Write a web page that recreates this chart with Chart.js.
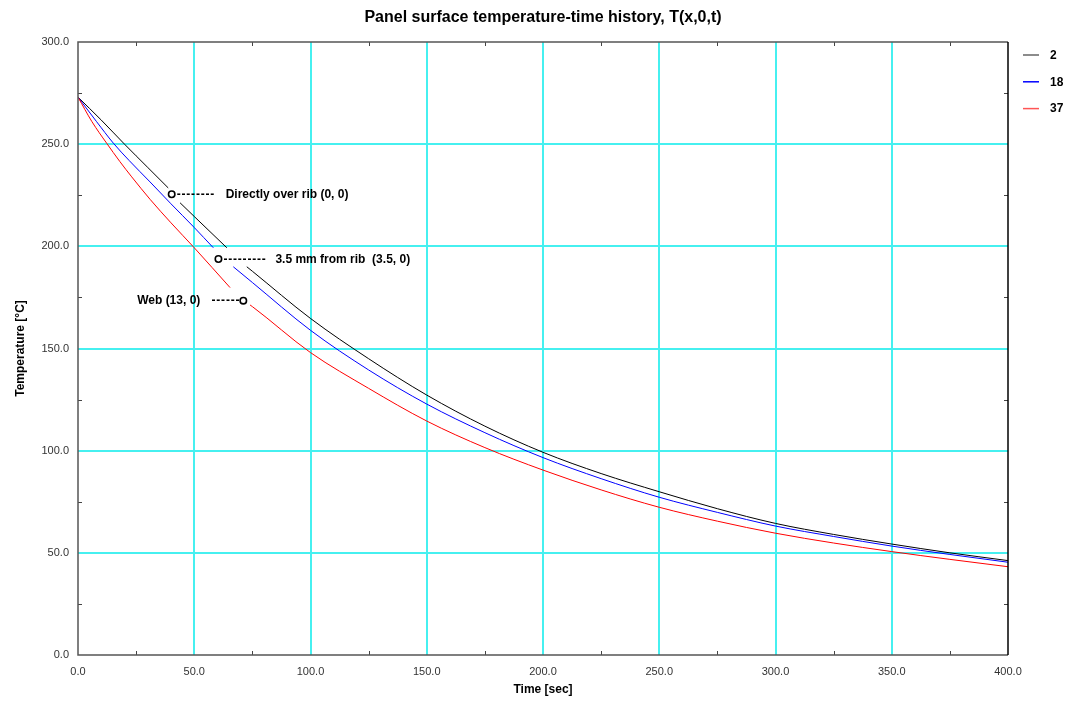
<!DOCTYPE html>
<html>
<head>
<meta charset="utf-8">
<script src="https://cdn.jsdelivr.net/npm/chart.js@4.4.0/dist/chart.umd.min.js"></script>
<style>
    html, body { margin: 0; padding: 0; background: #fff; }
</style>
</head>
<body>
<canvas id="history_view" width="1067" height="707"></canvas>
<script>
// values (time in sec, temperature in degC)
const time_2 = [0, 10, 20, 30, 38.8, 41, 43.9, 50, 64.0, 68, 72.6, 75, 100, 125, 150, 175, 200, 225, 250, 275, 300, 325, 350, 375, 400];
const temp_2 = [273, 261.8, 250, 238.6, 228.6, null, 221.3, 214.6, 199.3, null, 190.0, 187.8, 164.7, 145, 127.2, 112, 99.2, 88.8, 79.9, 71.6, 64.4, 59, 54.3, 50, 46.2];

const time_18 = [0, 8, 15.2, 22, 31, 40, 50, 58.2, 62, 66.8, 75, 100, 125, 150, 175, 200, 225, 250, 275, 300, 325, 350, 375, 400];
const temp_18 = [273, 261, 250.5, 242, 231.5, 220.8, 209.2, 199.3, null, 190.0, 182.3, 158.9, 139.5, 122.8, 108.8, 96.6, 86.3, 77.2, 69.8, 63.1, 58, 53.3, 49.2, 45.4];

const time_37 = [0, 6, 12.3, 18, 23.1, 31, 40, 50, 65.4, 70, 74, 75, 100, 125, 150, 175, 200, 225, 250, 275, 300, 325, 350, 375, 400];
const temp_37 = [273, 261, 250.5, 241.5, 234, 223, 211.5, 199.3, 179.8, null, 171.3, 170.5, 148, 130.5, 114.5, 101.5, 90.5, 80.8, 72.3, 65.5, 59.6, 54.8, 50.6, 46.8, 43.2];

const series_names = ['2', '18', '37'];
const series_colors = ['#000000', '#0000ff', '#ff0000'];
const legend_colors = ['#666666', '#0000ff', '#ff5555'];

// labelled locations on the curves
const note_time = [40.3, 60.4, 71.1];
const note_temp = [225.5, 193.8, 173.4];
const note_texts = ['Directly over rib (0, 0)', '3.5 mm from rib  (3.5, 0)', 'Web (13, 0)'];
const note_dashes = ['--------', '---------', '------'];

const x_ticks_max = 400;
const y_ticks_max = 300;

const font_family = '"Liberation Sans", Arial, sans-serif';
const grid_color = 'rgb(70, 240, 240)';

function to_points(times, temps) {
    return times.map((t, i) => ({ x: t, y: temps[i] }));
}

// frame, minor ticks, title, legend and notes
const decoration_plugin = {
    id: 'decoration',
    afterDraw(chart) {
        const ctx = chart.ctx;
        const area = chart.chartArea;
        const sx = chart.scales.x;
        const sy = chart.scales.y;

        ctx.save();

        // minor ticks pointing into the plot
        ctx.strokeStyle = '#444';
        ctx.lineWidth = 1;
        ctx.beginPath();
        for (let v = 25; v < x_ticks_max; v += 50) {
            const px = Math.round(sx.getPixelForValue(v)) + 0.5;
            ctx.moveTo(px, area.bottom);
            ctx.lineTo(px, area.bottom - 4);
            ctx.moveTo(px, area.top);
            ctx.lineTo(px, area.top + 4);
        }
        for (let v = 25; v < y_ticks_max; v += 50) {
            const py = Math.round(sy.getPixelForValue(v)) + 0.5;
            ctx.moveTo(area.left, py);
            ctx.lineTo(area.left + 4, py);
            ctx.moveTo(area.right, py);
            ctx.lineTo(area.right - 4, py);
        }
        ctx.stroke();

        // plot frame
        ctx.lineWidth = 1.5;
        ctx.strokeStyle = '#555';
        ctx.beginPath();
        ctx.moveTo(area.right, area.top);
        ctx.lineTo(area.left, area.top);
        ctx.lineTo(area.left, area.bottom);
        ctx.lineTo(area.right, area.bottom);
        ctx.stroke();
        ctx.strokeStyle = '#000';
        ctx.beginPath();
        ctx.moveTo(area.right, area.top);
        ctx.lineTo(area.right, area.bottom);
        ctx.stroke();

        // title
        ctx.fillStyle = '#000';
        ctx.font = `bold 16px ${font_family}`;
        ctx.textAlign = 'center';
        ctx.textBaseline = 'middle';
        ctx.fillText('Panel surface temperature-time history, T(x,0,t)', (area.left + area.right) / 2, 18);

        // legend
        ctx.font = `bold 12px ${font_family}`;
        ctx.textAlign = 'left';
        for (let i = 0; i < series_names.length; i++) {
            const ly = 55 + i * 26.8;
            ctx.strokeStyle = legend_colors[i];
            ctx.lineWidth = 1.5;
            ctx.beginPath();
            ctx.moveTo(area.right + 15, ly);
            ctx.lineTo(area.right + 31, ly);
            ctx.stroke();
            ctx.fillStyle = '#000';
            ctx.fillText(series_names[i], area.right + 42, ly + 0.5);
        }

        // notes beside the markers
        ctx.font = `bold 12px ${font_family}`;
        ctx.fillStyle = '#000';
        for (let i = 0; i < note_texts.length; i++) {
            const px = sx.getPixelForValue(note_time[i]);
            const py = sy.getPixelForValue(note_temp[i]) + 0.5;
            ctx.letterSpacing = '0.8px';
            if (i < 2) {
                ctx.textAlign = 'left';
                ctx.fillText(note_dashes[i], px + 5, py);
                ctx.letterSpacing = '0px';
                ctx.fillText(note_texts[i], px + (i === 0 ? 54 : 57), py);
            }
            else {
                ctx.textAlign = 'right';
                ctx.fillText(note_dashes[i], px - 3, py);
                ctx.letterSpacing = '0px';
                ctx.fillText(note_texts[i], px - 43, py);
            }
        }
        ctx.restore();
    }
};

function grid_line_color(ctx, max) {
    const v = ctx.tick ? ctx.tick.value : 0;
    return (v > 0 && v < max) ? grid_color : 'rgba(0,0,0,0)';
}

const history_canvas = document.getElementById('history_view');

const line_sets = [to_points(time_2, temp_2), to_points(time_18, temp_18), to_points(time_37, temp_37)]
    .map((points, i) => ({
        label: series_names[i],
        data: points,
        borderColor: series_colors[i],
        borderWidth: 1,
        pointRadius: 0,
        fill: false,
        spanGaps: false,
        cubicInterpolationMode: 'monotone',
        order: 3 - i
    }));

const marker_set = {
    label: 'notes',
    data: to_points(note_time, note_temp),
    showLine: false,
    pointRadius: 3.2,
    pointStyle: 'circle',
    pointBackgroundColor: '#fff',
    pointBorderColor: '#000',
    pointBorderWidth: 1.6,
    order: 0
};

const history_chart = new Chart(history_canvas, {
    type: 'line',
    data: {
        datasets: [...line_sets, marker_set]
    },
    options: {
        responsive: false,
        animation: false,
        layout: {
            padding: { top: 42, right: 59, left: 0, bottom: 0 }
        },
        scales: {
            x: {
                type: 'linear',
                min: 0,
                max: x_ticks_max,
                afterFit: (scale) => { scale.height = 52; },
                ticks: {
                    stepSize: 50,
                    padding: 10,
                    color: '#333',
                    font: { family: font_family, size: 11 },
                    callback: (value) => value.toFixed(1)
                },
                grid: {
                    color: (ctx) => grid_line_color(ctx, x_ticks_max),
                    lineWidth: 2,
                    drawTicks: false
                },
                border: { display: false },
                title: {
                    display: true,
                    text: 'Time [sec]',
                    color: '#000',
                    font: { family: font_family, size: 12, weight: 'bold' },
                    padding: { top: 0, bottom: 10 }
                }
            },
            y: {
                type: 'linear',
                min: 0,
                max: y_ticks_max,
                afterFit: (scale) => { scale.width = 78; },
                ticks: {
                    stepSize: 50,
                    padding: 9,
                    color: '#333',
                    font: { family: font_family, size: 11 },
                    callback: (value) => value.toFixed(1)
                },
                grid: {
                    color: (ctx) => grid_line_color(ctx, y_ticks_max),
                    lineWidth: 2,
                    drawTicks: false
                },
                border: { display: false },
                title: {
                    display: true,
                    text: 'Temperature [°C]',
                    color: '#000',
                    font: { family: font_family, size: 12, weight: 'bold' },
                    padding: { top: 13, bottom: 0 }
                }
            }
        },
        plugins: {
            legend: { display: false },
            tooltip: { enabled: false }
        }
    },
    plugins: [decoration_plugin]
});
</script>
</body>
</html>
